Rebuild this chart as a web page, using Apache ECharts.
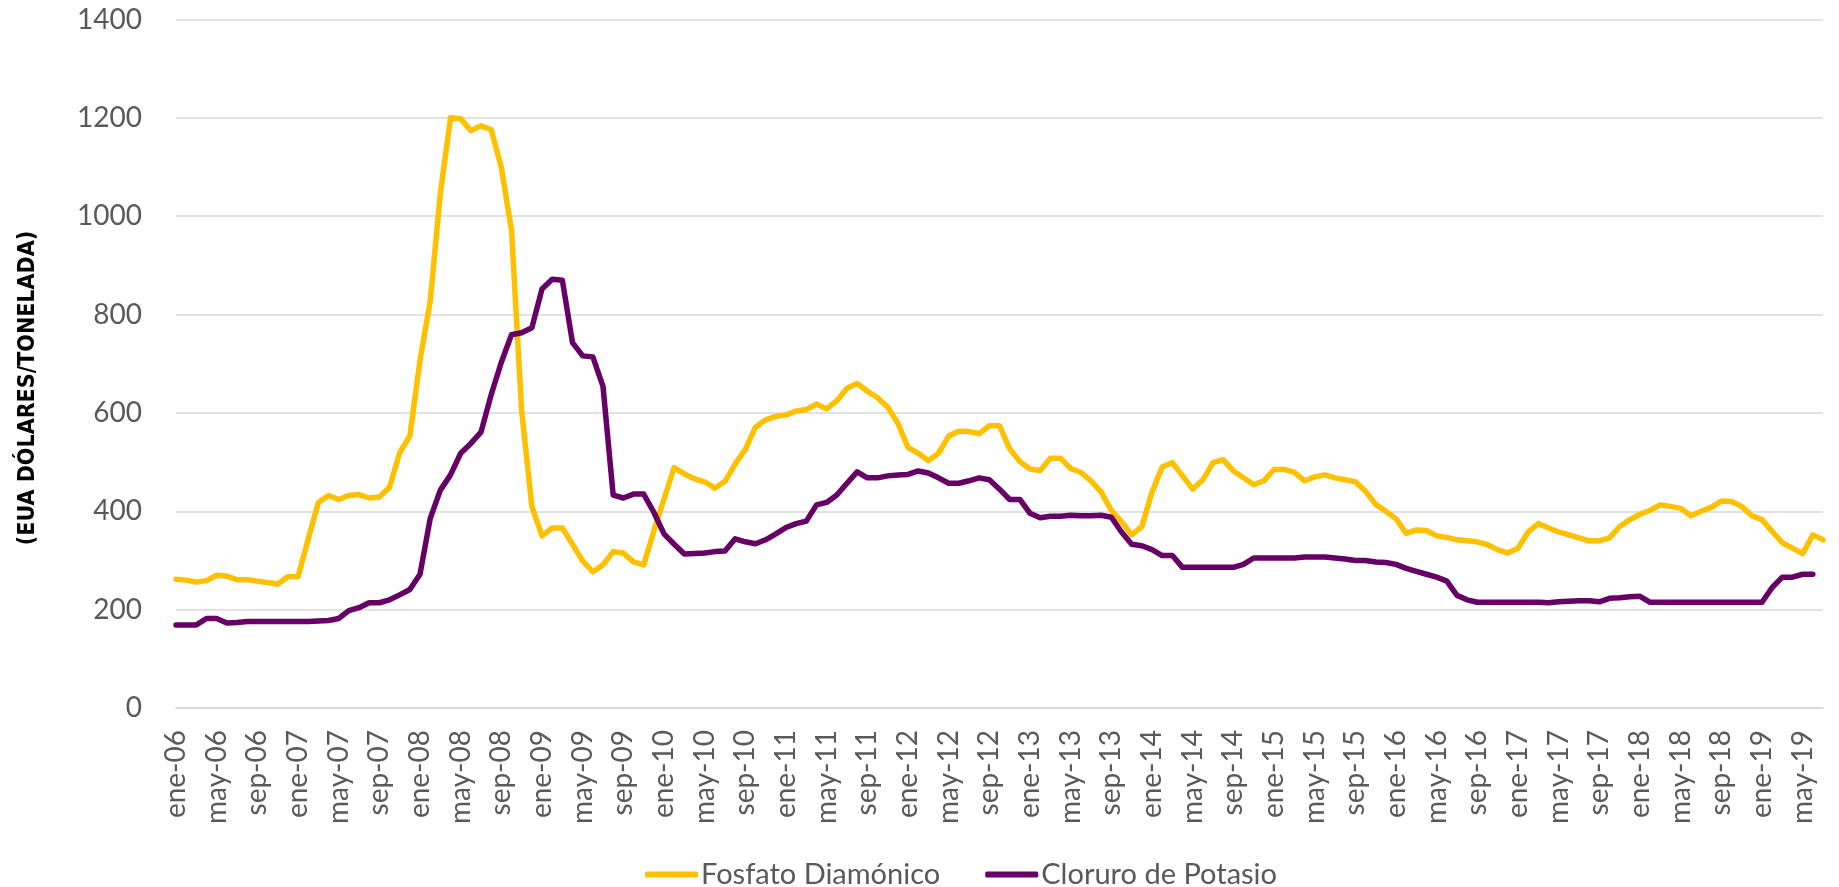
<!DOCTYPE html>
<html>
<head>
<meta charset="utf-8">
<script src="https://cdn.jsdelivr.net/npm/echarts@6/dist/echarts.min.js"></script>
<style>
html,body{margin:0;padding:0;background:#fff;}
#chart{width:1839px;height:887px;}
</style>
</head>
<body>
<div id="chart"></div>
<script>
const meses = ["ene","feb","mar","abr","may","jun","jul","ago","sep","oct","nov","dic"];
const anios = ["06","07","08","09","10","11","12","13","14","15","16","17","18","19"];
const numMeses = 163; // ene-06 .. jul-19
const categorias = [];
for (let k = 0; k < numMeses; k++) {
  categorias.push(meses[k % 12] + "-" + anios[Math.floor(k / 12)]);
}

const fosfatoDiamonico = [
  262,260,256,259,270,268,261,261,258,255,252,267,
  267,343,418,432,424,432,434,427,429,449,519,553,
  707,827,1046,1200,1198,1174,1184,1176,1099,971,604,410,
  350,366,366,333,299,277,291,318,315,297,291,360,
  425,489,476,466,460,447,461,496,526,571,586,593,
  596,604,607,618,608,625,650,660,644,631,612,579,
  530,518,503,518,553,563,562,558,574,574,527,501,
  486,483,508,508,487,479,462,439,402,379,352,369,
  439,490,499,472,445,464,499,505,482,468,454,462,
  485,485,479,462,470,474,468,464,460,441,414,400,
  385,355,362,361,350,347,342,340,338,332,322,315,
  325,358,375,366,358,352,346,340,340,346,369,383,
  394,402,413,410,406,391,400,408,421,420,410,391,
  383,359,336,325,314,352,342
];

const cloruroPotasio = [
  169,169,169,182,182,173,174,176,176,176,176,176,
  176,176,177,178,182,198,204,214,214,220,230,241,
  272,385,443,474,518,538,561,637,703,759,763,773,
  852,872,870,743,716,714,654,433,427,435,435,398,
  354,333,313,314,315,318,319,344,338,334,342,354,
  367,375,380,413,418,433,457,480,468,468,472,474,
  475,482,478,468,457,457,462,468,464,445,424,424,
  396,387,390,390,392,391,391,392,388,358,333,330,
  322,310,310,286,286,286,286,286,286,292,305,305,
  305,305,305,307,307,307,305,303,300,300,297,296,
  292,284,278,272,266,258,229,220,215,215,215,215,
  215,215,215,214,216,217,218,218,216,223,224,226,
  227,215,215,215,215,215,215,215,215,215,215,215,
  215,245,266,266,272,272
];

const nombresSeries = ["Fosfato Diamónico", "Cloruro de Potasio"];
const colores = ["#FFC000", "#660066"];
const ticksY = { min: 0, max: 1400, interval: 200 };
const tituloEjeY = "(EUA DÓLARES/TONELADA)";

const chart = echarts.init(document.getElementById('chart'), null, {renderer: 'canvas'});
const option = {
  animation: false,
  backgroundColor: '#ffffff',
  grid: { left: 176, right: 16, top: 19.5, bottom: 179, containLabel: false },
  legend: {
    data: nombresSeries,
    left: 645,
    top: 860,
    padding: 0,
    icon: 'roundRect',
    itemWidth: 53,
    itemHeight: 6,
    itemGap: 45,
    textStyle: { fontFamily: 'Lato', fontSize: 29, color: '#595959', padding: [0,0,0,-2] }
  },
  graphic: [{
    type: 'text',
    x: 28,
    y: 388,
    rotation: Math.PI / 2,
    style: {
      text: tituloEjeY,
      fontFamily: 'DejaVu Sans Condensed',
      fontWeight: 'bold',
      fontSize: 23,
      fill: '#000000',
      align: 'center',
      verticalAlign: 'middle'
    }
  }],
  xAxis: {
    type: 'category',
    data: categorias,
    boundaryGap: false,
    axisLine: { show: true, lineStyle: { color: '#d9d9d9', width: 1.5 } },
    axisTick: { show: false },
    axisLabel: { interval: 3, rotate: 90, margin: 22, fontFamily: 'Lato', fontSize: 28, color: '#595959' },
    splitLine: { show: false }
  },
  yAxis: {
    type: 'value',
    min: ticksY.min, max: ticksY.max, interval: ticksY.interval,
    axisLine: { show: false },
    axisTick: { show: false },
    axisLabel: { margin: 34, fontFamily: 'Lato', fontSize: 28, color: '#595959', formatter: v => String(v) },
    splitLine: { lineStyle: { color: '#d9d9d9', width: 1.5 } }
  },
  series: [
    {
      name: nombresSeries[0], type: 'line', data: fosfatoDiamonico,
      showSymbol: false, symbol: 'none',
      lineStyle: { width: 5.5, color: colores[0], join: 'round', cap: 'round' },
      itemStyle: { color: colores[0] }
    },
    {
      name: nombresSeries[1], type: 'line', data: cloruroPotasio,
      showSymbol: false, symbol: 'none',
      lineStyle: { width: 5.5, color: colores[1], join: 'round', cap: 'round' },
      itemStyle: { color: colores[1] }
    }
  ]
};
chart.setOption(option);
</script>
</body>
</html>
